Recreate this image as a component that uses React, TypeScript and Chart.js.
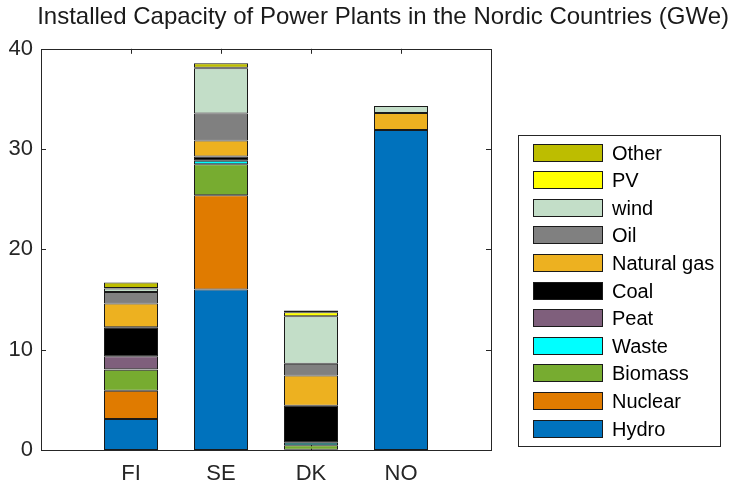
import React, { useEffect, useRef } from 'react';
import { Chart, registerables } from 'chart.js';

Chart.register(...registerables);

// ---- data ----
const countries = ['FI', 'SE', 'DK', 'NO'];
const tickValues = [0, 10, 20, 30, 40];

const seriesNames = ['Hydro', 'Nuclear', 'Biomass', 'Waste', 'Peat', 'Coal', 'Natural gas', 'Oil', 'wind', 'PV', 'Other'];
const seriesColors = ['#0072BD', '#E07B00', '#77AC30', '#00FFFF', '#7F5F7C', '#000000', '#EDB120', '#808080', '#C3DEC8', '#FFFF00', '#BDBD00'];

const hydro = [3.1, 16.0, 0.02, 31.9];
const nuclear = [2.8, 9.4, 0, 0];
const biomass = [2.1, 3.1, 0.45, 0];
const waste = [0.05, 0.35, 0.25, 0];
const peat = [1.3, 0, 0, 0];
const coal = [2.9, 0.4, 3.7, 0];
const naturalGas = [2.35, 1.6, 3.0, 1.7];
const oil = [1.15, 2.7, 1.17, 0];
const wind = [0.35, 4.5, 4.75, 0.7];
const pv = [0.05, 0.05, 0.4, 0];
const other = [0.55, 0.45, 0.17, 0];

const seriesValues = [hydro, nuclear, biomass, waste, peat, coal, naturalGas, oil, wind, pv, other];

const FONT = "'Liberation Sans', Arial, Helvetica, sans-serif";
const AXIS_COLOR = '#262626';

const framePlugin = {
  id: 'frameTicks',
  beforeDatasetsDraw(chart: any) {
    const { ctx, chartArea: a, scales } = chart;
    ctx.save();
    ctx.strokeStyle = AXIS_COLOR;
    ctx.lineWidth = 1;
    ctx.beginPath();
    const L = 5;
    tickValues.forEach((v) => {
      const py = Math.round(scales.y.getPixelForValue(v)) + 0.5;
      ctx.moveTo(a.left, py);
      ctx.lineTo(a.left + L, py);
      ctx.moveTo(a.right, py);
      ctx.lineTo(a.right - L, py);
    });
    countries.forEach((_, i) => {
      const px = Math.round(scales.x.getPixelForValue(i + 1)) + 0.5;
      ctx.moveTo(px, a.bottom);
      ctx.lineTo(px, a.bottom - L);
      ctx.moveTo(px, a.top);
      ctx.lineTo(px, a.top + L);
    });
    ctx.stroke();
    ctx.restore();
  },
  afterDatasetsDraw(chart: any) {
    const { ctx, chartArea: a } = chart;
    ctx.save();
    ctx.strokeStyle = AXIS_COLOR;
    ctx.lineWidth = 1;
    const l = Math.round(a.left) + 0.5;
    const r = Math.round(a.right) + 0.5;
    const t = Math.round(a.top) + 0.5;
    const b = Math.round(a.bottom) + 0.5;
    ctx.strokeRect(l, t, r - l, b - t);
    ctx.restore();
  },
  afterDraw(chart: any) {
    const { ctx } = chart;
    const ds = chart.data.datasets;
    const boxX = 518.5, boxY = 135.5, boxW = 202, boxH = 311;
    ctx.save();
    ctx.fillStyle = '#ffffff';
    ctx.fillRect(boxX, boxY, boxW, boxH);
    ctx.strokeStyle = AXIS_COLOR;
    ctx.lineWidth = 1;
    ctx.strokeRect(boxX, boxY, boxW, boxH);
    const items = ds.map((d: any) => d).reverse();
    const sx = 533.5, sw = 69, sh = 17, step = 27.6, firstTop = 143.5;
    ctx.font = `20px ${FONT}`;
    ctx.textBaseline = 'middle';
    ctx.textAlign = 'left';
    items.forEach((d: any, i: number) => {
      const top = Math.round(firstTop + i * step) + 0.5;
      ctx.fillStyle = d.backgroundColor;
      ctx.fillRect(sx, top, sw, sh);
      ctx.strokeStyle = '#1a1a1a';
      ctx.strokeRect(sx, top, sw, sh);
      ctx.fillStyle = '#000000';
      ctx.fillText(d.label, 612, top + sh / 2 + 1);
    });
    ctx.restore();
  },
};

export default function App() {
  const ref = useRef<HTMLCanvasElement | null>(null);

  useEffect(() => {
    if (!ref.current) return;
    const datasets = seriesNames.map((name, si) => ({
      label: name,
      data: seriesValues[si].map((v, ci) => ({ x: ci + 1, y: v })),
      backgroundColor: seriesColors[si],
      borderColor: '#1a1a1a',
      borderWidth: 1,
      borderSkipped: false as const,
      categoryPercentage: 1,
      barPercentage: 0.6,
    }));
    const chart = new Chart(ref.current, {
      type: 'bar',
      data: { datasets },
      plugins: [framePlugin],
      options: {
        animation: false,
        responsive: false,
        maintainAspectRatio: false,
        layout: { padding: 0 },
        plugins: {
          legend: { display: false },
          tooltip: { enabled: false },
          title: {
            display: true,
            text: 'Installed Capacity of Power Plants in the Nordic Countries (GWe)',
            align: 'end',
            color: '#1a1a1a',
            font: { family: FONT, size: 24, weight: 'normal' },
            padding: { top: 3, bottom: 17 },
          },
        },
        scales: {
          x: {
            type: 'linear',
            stacked: true,
            offset: false,
            min: 0,
            max: 5,
            grid: { display: false, drawTicks: false, offset: false },
            border: { display: false },
            ticks: {
              stepSize: 1,
              autoSkip: false,
              maxRotation: 0,
              padding: 11,
              color: AXIS_COLOR,
              font: { family: FONT, size: 22 },
              callback: (v: any) => countries[Number(v) - 1] ?? '',
            },
            afterFit: (s: any) => { s.height = 37; },
          },
          y: {
            type: 'linear',
            stacked: true,
            min: 0,
            max: 40,
            grid: { display: false, drawTicks: false },
            border: { display: false },
            ticks: {
              stepSize: 10,
              padding: 8,
              color: AXIS_COLOR,
              font: { family: FONT, size: 22 },
            },
            afterFit: (s: any) => { s.width = 41; },
          },
          yRight: {
            type: 'linear',
            position: 'right',
            min: 0,
            max: 40,
            grid: { display: false, drawTicks: false },
            border: { display: false },
            ticks: { display: false },
            afterFit: (s: any) => { s.width = 238; },
          },
        },
      } as any,
    });
    return () => chart.destroy();
  }, []);

  return (
    <div style={{ position: 'fixed', left: 0, top: 0, width: 729, height: 487, background: '#fff' }}>
      <canvas ref={ref} width={729} height={487} style={{ width: 729, height: 487, display: 'block' }} />
    </div>
  );
}
